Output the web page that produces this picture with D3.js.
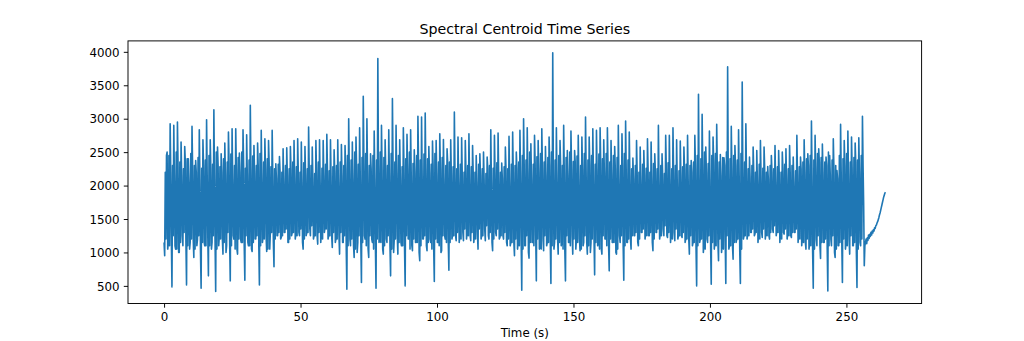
<!DOCTYPE html>
<html>
<head>
<meta charset="utf-8">
<script src="https://cdn.jsdelivr.net/npm/d3@7"></script>
<style>
  html, body { margin: 0; padding: 0; background: #ffffff; }
  svg { display: block; }
  text { font-family: "DejaVu Sans", sans-serif; fill: #000; }
</style>
</head>
<body>
<svg id="chart" width="1024" height="341"></svg>
<script>
// ---- data ----
const chartTitle = "Spectral Centroid Time Series";
const xLabel = "Time (s)";
const hopSeconds = 0.2225;   // time between successive centroid frames
const xTicks = [0, 50, 100, 150, 200, 250];
const yTicks = [500, 1000, 1500, 2000, 2500, 3000, 3500, 4000];

// The signal repeats a ~1.33 s onset cycle; each cycle holds six frames:
// lowA, dip, highA, lowB, peak, highB (Hz). One row = 12 cycles (~16 s).
const lowAHz = [
  1150,1050,1200,1100,1000,1250,1150,1050,1200,1100,1000,1150,
  1250,1050,1150,1100,1200,1000,1150,1250,1050,1200,1100,1150,
  1050,1200,1100,1150,1250,1050,1150,1250,1200,1300,1150,1250,
  1200,1300,1150,1250,1350,1200,1250,1150,1300,1200,1250,1150,
  1250,1150,1050,1200,1100,1000,1150,1250,1050,1200,1100,1150,
  1050,1200,1100,1000,1250,1150,1050,1200,1100,1150,1000,1200,
  1100,1200,1050,1150,1000,1250,1150,1200,1250,1150,1300,1200,
  1250,1150,1300,1200,1350,1250,1150,1300,1200,1250,1150,1100,
  1150,1050,1200,1100,1000,1150,1250,1050,1200,1100,1150,1050,
  1200,1100,1000,1150,1250,1050,1200,1100,1150,1000,1200,1100,
  1050,1200,1100,1150,1000,1250,1100,1150,1200,1250,1150,1300,
  1200,1250,1150,1300,1200,1350,1250,1150,1300,1200,1250,1150,
  1200,1100,1050,1150,1000,1200,1100,1050,1150,1000,1200,1050,
  1100,1150,1000,1200,1200,1300,1250,1150,1300,1200,1250,1350,
  1250,1150,1300,1200,1250,1300,1150,1100,1150,1050,1000,1200,
  1100,1150,1050,1200,1000,1100,1150,1050,1200,1100,1000,1150
];
const dipHz = [
  950,1150,485,1050,1000,1100,515,1150,925,1200,465,1100,
  650,1150,415,1250,975,1100,575,1200,975,1150,585,1100,
  1015,1200,515,1250,1015,1300,785,1250,1225,1300,1150,1300,
  1275,1250,1050,1300,1250,1250,1125,1300,1375,1250,1075,1200,
  975,1150,450,1100,925,1150,550,1200,925,1150,465,1200,
  975,1150,650,1200,975,1100,500,1200,1025,1150,875,1200,
  1025,1150,565,1150,1025,1200,735,1250,1175,1250,1175,1300,
  1175,1250,1050,1250,1175,1200,1025,1250,1225,1200,1100,1150,
  950,1150,435,1100,915,1150,575,1100,1025,1150,535,1150,
  975,1150,575,1150,975,1200,1025,1150,975,1150,665,1150,
  975,1200,725,1150,975,1150,585,1150,1050,1250,1100,1300,
  1300,1250,1025,1300,1275,1250,1225,1300,1175,1250,1225,1200,
  975,1150,500,1200,1125,1150,525,1150,875,1150,535,1100,
  900,1200,535,1250,1275,1300,1275,1300,1225,1300,1200,1300,
  1325,1300,1275,1300,1225,1300,1275,1250,1050,1150,465,1100,
  910,1150,425,1100,925,1100,550,1150,975,1100,475,1100
];
const highAHz = [
  2200,2450,2300,2500,2350,2250,2400,2480,2300,2420,2260,2380,
  2450,2320,2500,2280,2400,2350,2470,2300,2420,2500,2260,2380,
  2440,2300,2480,2350,2400,2280,2250,2320,2200,2300,2250,2350,
  2280,2200,2340,2250,2300,2180,2350,2260,2320,2220,2280,2300,
  2350,2300,2450,2380,2500,2320,2420,2480,2300,2450,2380,2500,
  2420,2300,2480,2350,2450,2280,2400,2500,2330,2450,2380,2470,
  2400,2320,2480,2350,2420,2300,2350,2280,2250,2320,2200,2300,
  2280,2200,2320,2250,2180,2300,2260,2340,2200,2280,2250,2320,
  2300,2350,2450,2380,2500,2320,2430,2480,2350,2420,2500,2380,
  2450,2300,2420,2500,2360,2440,2300,2480,2380,2450,2320,2470,
  2400,2480,2350,2450,2420,2300,2480,2380,2250,2300,2200,2320,
  2260,2200,2330,2250,2300,2180,2340,2250,2300,2220,2280,2320,
  2300,2350,2450,2400,2500,2330,2450,2480,2350,2420,2500,2400,
  2450,2380,2480,2350,2250,2300,2200,2320,2260,2200,2300,2250,
  2280,2200,2320,2250,2300,2220,2280,2350,2400,2450,2380,2480,
  2420,2350,2500,2380,2300,2450,2400,2480,2350,2420,2380,2450
];
const lowBHz = [
  1200,1100,1250,1050,1150,1300,1100,1200,1050,1250,1150,1100,
  1100,1250,1050,1200,1150,1300,1100,1050,1200,1150,1250,1100,
  1150,1250,1100,1200,1050,1300,1200,1300,1250,1350,1200,1300,
  1250,1350,1200,1300,1400,1250,1300,1200,1350,1250,1300,1200,
  1300,1250,1100,1200,1050,1250,1150,1100,1250,1050,1200,1150,
  1100,1250,1050,1200,1150,1100,1250,1050,1200,1150,1100,1250,
  1150,1050,1200,1100,1250,1150,1150,1250,1300,1200,1350,1250,
  1300,1200,1350,1250,1400,1300,1200,1350,1250,1300,1200,1150,
  1200,1100,1050,1250,1150,1100,1200,1050,1250,1150,1100,1200,
  1150,1050,1250,1100,1200,1150,1050,1250,1100,1200,1150,1050,
  1250,1100,1200,1150,1050,1250,1100,1200,1250,1300,1200,1350,
  1250,1300,1200,1350,1250,1400,1300,1200,1350,1250,1300,1200,
  1250,1150,1100,1200,1050,1250,1150,1100,1200,1050,1250,1100,
  1150,1200,1050,1250,1250,1350,1300,1200,1350,1250,1300,1400,
  1300,1200,1350,1250,1300,1350,1200,1150,1200,1100,1050,1250,
  1150,1200,1100,1250,1050,1150,1200,1100,1250,1150,1050,1200
];
const peakHz = [
  2450,2925,2900,2950,2650,2585,2400,2885,2375,2835,2685,2985,
  2685,3135,2575,2475,2635,2800,2850,2850,2485,2835,2760,3200,
  2600,2635,2825,2700,2675,2825,2325,2435,2550,2565,2585,2675,
  2700,2650,2585,2875,2575,2675,2685,2675,2765,2685,2535,2685,
  2615,2600,3000,2650,2725,2865,3335,3000,2475,2815,3900,2900,
  2685,2835,3300,2900,2685,2865,2765,2835,2535,3035,3025,3085,
  2585,2665,2675,2775,2690,2550,2685,3100,2725,2715,2675,2775,
  2600,2450,2475,2500,2425,2835,2750,2785,2335,2575,2735,2800,
  2500,2825,3000,2865,2625,2750,2675,2850,2585,2725,3985,2865,
  2675,2900,2525,2815,2525,2750,2725,3025,2725,2850,2825,2865,
  2685,2865,2675,2585,2900,2775,2965,2800,2410,2675,2575,2525,
  2700,2650,2475,2900,2475,2750,2750,2865,2685,2665,2575,2750,
  2375,2750,3365,3065,2575,2815,2725,2915,2465,2415,3775,2885,
  2600,2835,3550,2925,2425,2575,2525,2675,2575,2285,2450,2600,
  2525,2500,2550,2600,2425,2750,2425,2685,2475,2965,2750,2550,
  2620,2425,2450,2700,2225,2915,2675,2815,2725,2635,2715,3035
];
const highBHz = [
  2500,2200,2100,2300,2150,2350,2050,2250,2200,2100,2300,2150,
  2250,2100,2300,2200,2150,2350,2100,2250,2200,2300,2150,2250,
  2200,2300,2100,2250,2350,2150,2100,2200,2050,2150,2250,2100,
  2200,2050,2150,2250,2100,2200,2050,2150,2250,2100,2200,2050,
  2150,2250,2200,2100,2300,2150,2350,2200,2250,2100,2300,2200,
  2250,2150,2350,2200,2100,2300,2250,2150,2200,2350,2100,2250,
  2200,2300,2150,2250,2100,2350,2150,2200,2050,2150,2250,2100,
  2200,2050,2150,2100,2250,2050,2200,2150,2100,2250,2050,2200,
  2250,2150,2300,2200,2100,2350,2200,2250,2150,2300,2200,2100,
  2300,2200,2150,2250,2350,2100,2250,2200,2300,2150,2250,2350,
  2200,2300,2150,2250,2100,2300,2200,2150,2100,2200,2050,2150,
  2250,2100,2200,2050,2150,2250,2100,2200,2050,2150,2250,2100,
  2200,2250,2150,2300,2200,2100,2350,2250,2150,2300,2200,2250,
  2300,2150,2250,2200,2100,2200,2050,2150,2250,2100,2200,2050,
  2150,2250,2100,2200,2050,2150,2250,2200,2300,2150,2250,2350,
  2200,2300,2150,2250,2100,2200,2300,2150,2250,2350,2200,2300
];
// quiet ending after the last onset (Hz)
const tailHz = [
  1700, 800, 1100, 1150, 1200, 1130, 1220, 1180, 1260, 1210,
  1270, 1240, 1300, 1260, 1320, 1290, 1340, 1320, 1370, 1360,
  1400, 1410, 1440, 1460, 1490, 1520, 1560, 1590, 1630, 1670,
  1710, 1750, 1790, 1830, 1860, 1890, 1900
];

// ---- build the frame table ----
const values = [];
peakHz.forEach((p, k) => {
  values.push(lowAHz[k], dipHz[k], highAHz[k], lowBHz[k], p, highBHz[k]);
});
tailHz.forEach(v => values.push(v));
const data = values.map((v, i) => ({ t: i * hopSeconds, v }));

// ---- layout (matplotlib default axes box for a 12x4 in figure) ----
const plot = { left: 128, right: 921.6, top: 40.9, bottom: 303.5 };
const blue = "#1f77b4";

const tExt = d3.extent(data, d => d.t);
const vExt = d3.extent(data, d => d.v);
const tPad = (tExt[1] - tExt[0]) * 0.05;
const vPad = (vExt[1] - vExt[0]) * 0.05;

const x = d3.scaleLinear()
  .domain([tExt[0] - tPad, tExt[1] + tPad])
  .range([plot.left, plot.right]);
const y = d3.scaleLinear()
  .domain([vExt[0] - vPad, vExt[1] + vPad])
  .range([plot.bottom, plot.top]);

const svg = d3.select("#chart");

// line
const line = d3.line().x(d => x(d.t)).y(d => y(d.v));
svg.append("path")
  .datum(data)
  .attr("d", line)
  .attr("fill", "none")
  .attr("stroke", blue)
  .attr("stroke-width", 1.6)
  .attr("stroke-linejoin", "round");

// axes
const tickFont = 11.85;
const xAxis = d3.axisBottom(x).tickValues(xTicks).tickFormat(d3.format("d"))
  .tickSizeInner(4.2).tickSizeOuter(0).tickPadding(4.2);
const yAxis = d3.axisLeft(y).tickValues(yTicks).tickFormat(d3.format("d"))
  .tickSizeInner(4.2).tickSizeOuter(0).tickPadding(4.2);

const gx = svg.append("g")
  .attr("transform", `translate(0,${plot.bottom})`)
  .call(xAxis);
const gy = svg.append("g")
  .attr("transform", `translate(${plot.left},0)`)
  .call(yAxis);

[gx, gy].forEach(g => {
  g.select(".domain").remove();
  g.selectAll(".tick line").attr("stroke", "#000").attr("stroke-width", 0.95);
  g.selectAll(".tick text")
    .attr("font-family", "DejaVu Sans, sans-serif")
    .attr("font-size", tickFont)
    .attr("fill", "#000");
});
gx.selectAll(".tick text").attr("dy", "0.76em");
gy.selectAll(".tick text").attr("dy", "0.36em");

// frame
svg.append("rect")
  .attr("x", plot.left).attr("y", plot.top)
  .attr("width", plot.right - plot.left)
  .attr("height", plot.bottom - plot.top)
  .attr("fill", "none").attr("stroke", "#000").attr("stroke-width", 0.95);

// title
svg.append("text")
  .attr("x", (plot.left + plot.right) / 2)
  .attr("y", plot.top - 7.1)
  .attr("text-anchor", "middle")
  .attr("font-size", 14.2)
  .text(chartTitle);

// x label
svg.append("text")
  .attr("x", (plot.left + plot.right) / 2)
  .attr("y", 337)
  .attr("text-anchor", "middle")
  .attr("font-size", tickFont)
  .text(xLabel);
</script>
</body>
</html>
